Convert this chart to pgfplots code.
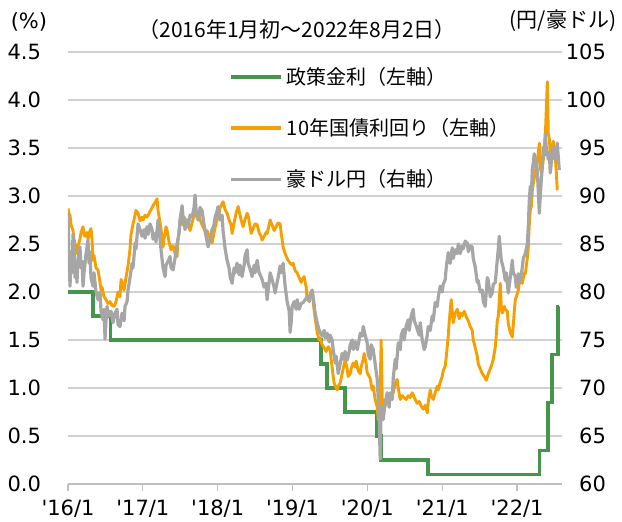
\documentclass[border=0pt]{standalone}
\usepackage{fontspec}
\setmainfont{DejaVu Sans}
\newfontfamily\jp{Noto Sans CJK JP}
\usepackage{pgfplots}
\usepackage{pgfplotstable}
\pgfplotsset{compat=1.18}
\definecolor{cgreen}{HTML}{43964A}
\definecolor{corange}{HTML}{F5A000}
\definecolor{cgray}{HTML}{A6A6A6}
\definecolor{cgrid}{HTML}{D0D0D0}
\definecolor{caxis}{HTML}{BFBFBF}

% policy rate (%), x = years since Jan 2016
\pgfplotstableread{
x y
0.000 2.00
0.334 1.75
0.570 1.50
3.380 1.25
3.460 1.00
3.700 0.75
4.130 0.50
4.180 0.25
4.810 0.10
6.300 0.35
6.410 0.85
6.470 1.35
6.550 1.85
6.560 1.85
}\policy

% 10y government bond yield (%)
\pgfplotstableread{
x y
0.000 2.87
0.013 2.82
0.027 2.80
0.040 2.70
0.067 2.64
0.080 2.55
0.094 2.50
0.107 2.45
0.120 2.40
0.134 2.48
0.160 2.55
0.174 2.62
0.201 2.68
0.214 2.60
0.227 2.58
0.254 2.62
0.267 2.55
0.294 2.64
0.307 2.66
0.321 2.55
0.334 2.33
0.348 2.38
0.374 2.25
0.401 2.23
0.428 2.10
0.441 2.02
0.455 2.05
0.481 1.95
0.508 1.92
0.535 1.88
0.561 1.90
0.588 1.86
0.615 1.85
0.642 1.90
0.668 2.00
0.695 1.95
0.709 2.13
0.722 2.10
0.749 2.02
0.775 2.15
0.802 2.27
0.829 2.45
0.842 2.60
0.869 2.71
0.896 2.80
0.909 2.85
0.936 2.82
0.963 2.74
0.989 2.78
1.003 2.75
1.029 2.80
1.056 2.78
1.083 2.82
1.110 2.86
1.136 2.90
1.163 2.93
1.190 2.97
1.203 2.85
1.230 2.72
1.243 2.65
1.270 2.47
1.283 2.55
1.310 2.68
1.324 2.64
1.350 2.52
1.377 2.44
1.404 2.48
1.430 2.40
1.457 2.37
1.471 2.55
1.497 2.75
1.524 2.70
1.551 2.78
1.578 2.74
1.604 2.70
1.631 2.64
1.658 2.72
1.684 2.80
1.698 2.85
1.725 2.78
1.751 2.82
1.765 2.75
1.791 2.70
1.818 2.66
1.845 2.60
1.858 2.64
1.885 2.58
1.912 2.55
1.925 2.51
1.952 2.62
1.979 2.72
2.005 2.78
2.032 2.88
2.059 2.92
2.072 2.94
2.099 2.86
2.126 2.82
2.152 2.75
2.179 2.70
2.193 2.61
2.219 2.72
2.246 2.82
2.273 2.89
2.299 2.80
2.313 2.75
2.340 2.68
2.366 2.76
2.393 2.82
2.406 2.80
2.433 2.68
2.447 2.61
2.473 2.66
2.500 2.71
2.527 2.70
2.553 2.62
2.580 2.58
2.594 2.54
2.620 2.58
2.647 2.62
2.660 2.61
2.687 2.70
2.701 2.75
2.714 2.72
2.727 2.70
2.754 2.64
2.781 2.68
2.807 2.72
2.834 2.71
2.848 2.62
2.874 2.47
2.901 2.40
2.928 2.35
2.941 2.33
2.968 2.30
2.995 2.28
3.008 2.30
3.035 2.22
3.061 2.20
3.088 2.15
3.115 2.10
3.128 2.13
3.155 2.16
3.182 2.05
3.195 1.92
3.222 1.95
3.249 2.00
3.262 2.02
3.289 1.80
3.316 1.65
3.329 1.58
3.356 1.50
3.369 1.52
3.396 1.45
3.422 1.42
3.449 1.38
3.476 1.43
3.503 1.40
3.516 1.30
3.543 1.12
3.556 1.05
3.583 1.00
3.596 0.98
3.610 1.02
3.636 1.05
3.663 1.15
3.690 1.25
3.703 1.29
3.730 1.20
3.743 1.12
3.770 1.15
3.783 1.20
3.810 1.26
3.837 1.22
3.850 1.28
3.877 1.18
3.904 1.15
3.917 1.22
3.944 1.30
3.957 1.36
3.984 1.25
3.997 1.16
4.024 1.12
4.037 1.10
4.064 0.98
4.078 1.02
4.104 0.88
4.131 0.80
4.144 0.67
4.158 0.75
4.171 1.00
4.184 1.50
4.198 0.90
4.211 0.74
4.238 0.82
4.265 0.88
4.291 0.85
4.318 0.92
4.345 0.95
4.372 1.05
4.398 1.09
4.412 1.00
4.439 0.88
4.465 0.92
4.492 0.90
4.519 0.88
4.545 0.92
4.572 0.90
4.599 0.95
4.612 0.93
4.639 0.88
4.666 0.84
4.693 0.86
4.719 0.81
4.746 0.78
4.773 0.82
4.800 0.74
4.813 0.85
4.840 0.98
4.853 0.92
4.880 0.88
4.906 0.95
4.933 1.02
4.947 0.98
4.973 1.06
5.000 1.12
5.013 1.18
5.040 1.23
5.053 1.32
5.080 1.54
5.094 1.70
5.120 1.92
5.134 1.80
5.147 1.68
5.174 1.78
5.201 1.82
5.227 1.72
5.241 1.78
5.267 1.75
5.294 1.80
5.321 1.74
5.348 1.70
5.374 1.64
5.401 1.60
5.414 1.50
5.441 1.42
5.468 1.33
5.481 1.25
5.508 1.20
5.535 1.15
5.561 1.12
5.575 1.10
5.588 1.08
5.615 1.15
5.642 1.20
5.668 1.26
5.682 1.30
5.709 1.43
5.722 1.55
5.735 1.70
5.749 1.75
5.762 1.90
5.775 2.09
5.789 1.85
5.802 1.78
5.829 1.85
5.842 1.82
5.869 1.80
5.882 1.67
5.909 1.58
5.936 1.53
5.949 1.65
5.963 1.80
5.976 1.92
6.003 1.98
6.016 2.02
6.043 2.15
6.070 2.09
6.096 2.20
6.110 2.19
6.136 2.35
6.150 2.47
6.163 2.70
6.176 2.85
6.190 2.89
6.203 3.05
6.217 3.13
6.243 3.25
6.270 3.38
6.283 3.45
6.297 3.55
6.310 3.30
6.324 3.24
6.337 3.30
6.350 3.38
6.364 3.50
6.377 3.62
6.390 3.90
6.404 4.19
6.417 3.65
6.430 3.60
6.444 3.44
6.457 3.52
6.471 3.50
6.484 3.57
6.497 3.48
6.511 3.40
6.524 3.25
6.537 3.06
}\bond

% AUD/JPY (yen)
\pgfplotstableread{
x y
0.000 88.2
0.013 84.0
0.027 80.6
0.040 83.5
0.053 82.0
0.067 86.0
0.080 84.5
0.094 81.5
0.107 83.0
0.120 81.0
0.134 83.5
0.160 84.7
0.174 82.5
0.187 83.2
0.201 80.6
0.214 82.0
0.241 84.0
0.267 85.4
0.281 83.0
0.294 84.2
0.307 81.5
0.334 80.6
0.348 82.0
0.374 80.0
0.401 79.2
0.428 80.0
0.441 78.0
0.468 77.1
0.481 78.2
0.495 75.1
0.508 77.0
0.521 78.5
0.548 77.5
0.575 78.0
0.602 76.8
0.628 77.8
0.655 78.2
0.668 76.6
0.695 76.4
0.722 77.8
0.749 77.0
0.762 78.5
0.789 79.0
0.802 80.2
0.829 81.5
0.856 83.0
0.869 82.5
0.896 85.1
0.909 84.5
0.936 87.1
0.963 86.5
0.989 85.8
1.016 86.5
1.029 85.6
1.056 86.8
1.070 86.0
1.096 87.1
1.123 86.5
1.136 85.5
1.163 86.1
1.176 85.2
1.203 87.5
1.230 85.5
1.243 84.4
1.270 82.5
1.297 81.6
1.310 82.8
1.337 83.2
1.364 83.7
1.377 82.5
1.404 82.3
1.430 83.5
1.457 85.0
1.484 86.1
1.497 87.5
1.524 89.0
1.537 87.8
1.564 86.5
1.591 87.5
1.604 86.8
1.631 88.0
1.658 87.8
1.684 88.8
1.698 90.1
1.711 88.5
1.738 87.5
1.765 88.8
1.791 88.5
1.818 87.0
1.845 85.8
1.872 84.7
1.898 85.5
1.925 86.5
1.952 87.0
1.965 87.8
1.992 88.4
2.005 88.9
2.032 87.5
2.059 88.0
2.072 86.4
2.099 84.5
2.126 83.3
2.152 82.5
2.166 81.6
2.193 80.9
2.219 82.5
2.233 82.0
2.259 83.0
2.286 81.8
2.299 82.8
2.326 81.6
2.353 82.8
2.366 83.8
2.393 84.4
2.406 83.0
2.433 82.4
2.460 81.6
2.487 82.8
2.500 82.0
2.527 83.3
2.553 82.0
2.567 81.8
2.594 81.3
2.620 80.5
2.647 80.9
2.660 79.2
2.687 81.0
2.701 82.0
2.727 81.3
2.754 80.5
2.767 79.9
2.794 81.0
2.807 81.5
2.834 82.7
2.848 82.0
2.874 83.0
2.901 80.6
2.928 79.0
2.955 78.0
2.968 75.8
2.981 76.8
2.995 78.5
3.021 79.0
3.048 78.2
3.061 79.2
3.088 78.2
3.115 78.8
3.142 78.9
3.168 79.2
3.195 79.5
3.222 79.0
3.249 80.0
3.262 80.2
3.275 79.5
3.302 77.8
3.329 76.8
3.356 76.0
3.369 75.8
3.396 75.4
3.422 76.0
3.436 75.2
3.463 75.7
3.489 74.8
3.503 75.5
3.529 75.0
3.543 74.0
3.570 72.6
3.583 73.3
3.610 71.5
3.636 72.5
3.663 73.6
3.676 73.0
3.703 73.8
3.730 72.9
3.757 73.8
3.770 74.5
3.797 75.0
3.810 74.0
3.837 74.8
3.864 74.0
3.890 75.0
3.904 75.7
3.930 75.4
3.944 76.4
3.971 75.5
3.997 74.7
4.011 73.5
4.037 73.0
4.051 74.5
4.078 74.0
4.104 72.5
4.131 70.9
4.144 69.0
4.158 66.7
4.171 62.6
4.184 68.1
4.198 67.0
4.211 66.7
4.238 68.5
4.265 69.5
4.291 68.0
4.305 69.5
4.332 68.8
4.345 71.0
4.372 73.0
4.385 72.0
4.412 74.7
4.439 74.0
4.452 75.5
4.479 76.1
4.492 75.0
4.519 76.5
4.545 77.1
4.559 76.0
4.586 77.5
4.612 78.2
4.626 77.0
4.652 76.5
4.666 76.1
4.693 75.5
4.706 76.8
4.733 75.0
4.759 74.0
4.773 74.3
4.800 75.5
4.813 76.4
4.840 76.0
4.866 77.5
4.880 77.0
4.906 78.9
4.933 78.5
4.947 79.5
4.973 80.6
5.000 80.0
5.013 80.8
5.040 81.3
5.053 82.5
5.080 84.1
5.094 83.2
5.107 83.0
5.134 84.6
5.147 83.5
5.174 84.4
5.201 84.0
5.214 85.0
5.241 84.0
5.267 84.8
5.281 84.5
5.307 85.3
5.334 85.1
5.348 84.2
5.374 84.8
5.401 84.7
5.414 83.5
5.441 82.6
5.468 81.0
5.481 81.2
5.508 80.0
5.535 80.2
5.548 79.0
5.575 78.5
5.588 80.0
5.602 81.5
5.615 81.2
5.642 79.5
5.668 79.9
5.682 80.8
5.709 81.0
5.735 83.3
5.749 84.5
5.762 85.8
5.775 84.5
5.789 83.3
5.816 82.5
5.842 81.2
5.856 82.0
5.882 79.9
5.909 81.5
5.936 83.3
5.949 82.0
5.976 81.6
5.989 80.5
6.016 81.9
6.043 81.0
6.070 82.6
6.083 83.5
6.110 84.0
6.136 85.0
6.150 86.8
6.163 89.5
6.176 91.0
6.190 90.0
6.203 92.7
6.217 93.5
6.230 94.4
6.243 93.0
6.257 93.8
6.270 92.7
6.283 90.5
6.297 88.2
6.310 90.0
6.324 91.7
6.337 93.0
6.350 95.1
6.364 94.2
6.377 96.5
6.390 95.0
6.404 94.5
6.417 93.8
6.430 94.5
6.444 92.4
6.457 93.5
6.471 94.2
6.484 95.1
6.497 94.0
6.511 93.8
6.524 94.8
6.537 95.5
6.551 94.0
6.564 92.7
}\audjpy

\begin{document}
\begin{tikzpicture}[font=\fontsize{10.5}{12}\selectfont]
\useasboundingbox (-34pt,-19pt) rectangle (277pt,242pt);
\begin{axis}[
  scale only axis, width=247pt, height=216pt,
  xmin=0, xmax=6.6, ymin=0, ymax=4.5,
  axis x line*=bottom, axis y line*=left,
  y axis line style={draw=none},
  x axis line style={caxis, line width=0.6pt, -},
  xtick={0,1,2,3,4,5,6},
  xticklabels={\textquotesingle{}16/1,\textquotesingle{}17/1,\textquotesingle{}18/1,\textquotesingle{}19/1,\textquotesingle{}20/1,\textquotesingle{}21/1,\textquotesingle{}22/1},
  xtick style={caxis, line width=0.6pt},
  tick align=outside, major tick length=3.5pt,
  xticklabel style={yshift=-1pt},
  ytick={0,0.5,...,4.5},
  yticklabels={0.0,0.5,1.0,1.5,2.0,2.5,3.0,3.5,4.0,4.5},
  ytick style={draw=none},
  yticklabel style={xshift=-6.5pt},
  ymajorgrids, grid style={cgrid, line width=0.6pt},
  clip mode=individual,
]
\addplot[const plot, cgreen, line width=1.8pt] table {\policy};
\addplot[corange, line width=1.45pt, line join=round] table {\bond};
\node[anchor=center] at (rel axis cs:-0.079,1.069) {(\%)};
\node[anchor=center] at (rel axis cs:0.464,1.052) {\jp （2016年1月初～2022年8月2日）};
\node[anchor=center] at (rel axis cs:1.002,1.072) {\jp (円/豪ドル)};
\end{axis}
\begin{axis}[
  scale only axis, width=247pt, height=216pt,
  xmin=0, xmax=6.6, ymin=60, ymax=105,
  axis x line=none, axis y line*=right,
  y axis line style={draw=none},
  ytick={60,65,...,105},
  yticklabels={60,65,70,75,80,85,90,95,100,105},
  ytick style={draw=none},
  yticklabel style={anchor=east, xshift=25.5pt},
  legend style={at={(0.325,0.975)}, anchor=north west, draw=none, fill=none,
    font=\jp\fontsize{10}{12}\selectfont, row sep=11.5pt, inner sep=0pt},
  legend cell align=left,
  legend image code/.code={\draw[#1] (0pt,0pt) -- (25pt,0pt);},
]
\addlegendimage{cgreen, line width=2pt}
\addlegendentry{政策金利（左軸）}
\addlegendimage{corange, line width=2pt}
\addlegendentry{10年国債利回り（左軸）}
\addplot[cgray, line width=1.6pt, line join=round] table {\audjpy};
\addlegendentry{豪ドル円（右軸）}
\end{axis}
\end{tikzpicture}
\end{document}
